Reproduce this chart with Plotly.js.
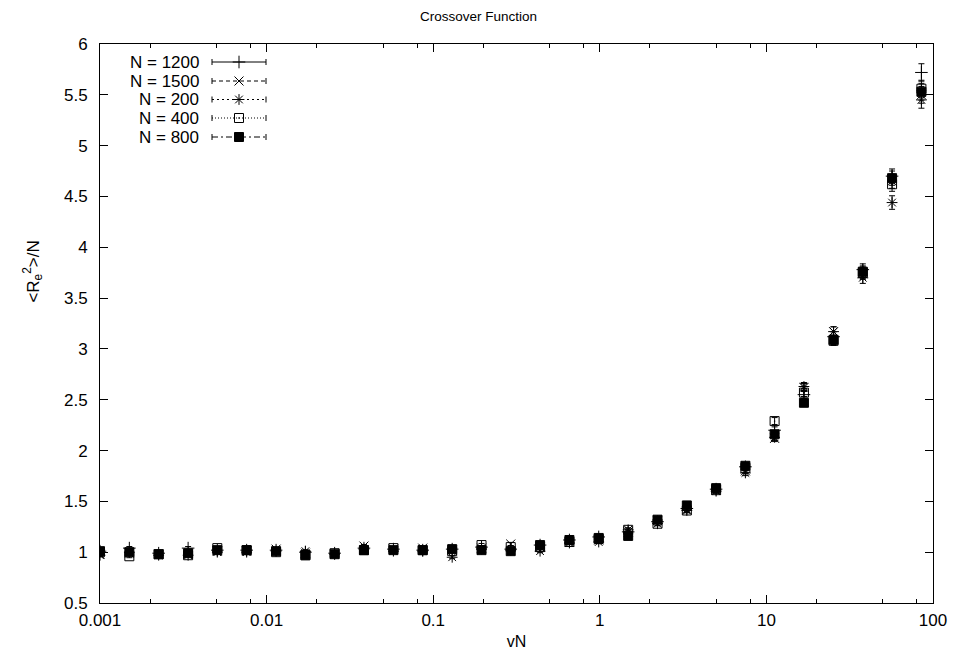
<!DOCTYPE html>
<html>
<head>
<meta charset="utf-8">
<script src="https://cdn.plot.ly/plotly-3.0.1.min.js"></script>
<style>html,body{margin:0;padding:0;background:#fff;}#chart{width:957px;height:666px;}</style>
</head>
<body>
<div id="chart"></div>
<script>
// x positions (vN)
const vN = [0.001, 0.0015, 0.00225, 0.00338, 0.00506, 0.00759, 0.0114, 0.0171, 0.0256, 0.0384,
  0.0577, 0.0865, 0.130, 0.195, 0.292, 0.438, 0.657, 0.985, 1.48, 2.22,
  3.33, 4.99, 7.48, 11.2, 16.8, 25.3, 37.9, 56.8, 85.2];

const seriesNames = ["N = 1200", "N = 1500", "N = 200", "N = 400", "N = 800"];

const r1200 = [1.01, 1.04, 0.99, 1.04, 1.02, 1.02, 1.02, 1.00, 0.99, 1.04,
  1.03, 1.02, 1.03, 1.05, 1.03, 1.07, 1.12, 1.15, 1.20, 1.30,
  1.43, 1.62, 1.84, 2.20, 2.55, 3.12, 3.78, 4.70, 5.72];
const r1500 = [0.98, 0.99, 0.98, 0.98, 1.01, 1.01, 1.03, 0.99, 0.98, 1.06,
  1.03, 1.04, 1.02, 1.04, 1.08, 1.05, 1.10, 1.12, 1.20, 1.31,
  1.42, 1.61, 1.80, 2.12, 2.62, 3.17, 3.74, 4.65, 5.50];
const r200 = [0.97, 1.00, 0.97, 0.97, 1.00, 1.00, 1.01, 1.01, 0.98, 1.03,
  1.01, 1.01, 0.95, 1.03, 1.02, 1.01, 1.09, 1.10, 1.22, 1.28,
  1.41, 1.60, 1.78, 2.13, 2.63, 3.17, 3.70, 4.44, 5.45];
const r400 = [1.00, 0.96, 0.98, 0.97, 1.04, 1.02, 1.00, 0.97, 0.99, 1.02,
  1.04, 1.02, 1.01, 1.07, 1.05, 1.05, 1.10, 1.13, 1.22, 1.28,
  1.41, 1.61, 1.83, 2.29, 2.57, 3.08, 3.75, 4.62, 5.56];
const r800 = [1.01, 1.00, 0.98, 0.99, 1.02, 1.02, 1.01, 0.97, 0.98, 1.02,
  1.02, 1.02, 1.03, 1.02, 1.01, 1.07, 1.12, 1.14, 1.16, 1.32,
  1.46, 1.63, 1.85, 2.16, 2.47, 3.09, 3.76, 4.68, 5.53];

const xTickVals = [0.001, 0.01, 0.1, 1, 10, 100];
const xTickText = ["0.001", "0.01", "0.1", "1", "10", "100"];
const xMinorVals = [0.002, 0.005, 0.008, 0.02, 0.05, 0.08, 0.2, 0.5, 0.8, 2, 5, 8, 20, 50, 80];

const seriesY = [r1200, r1500, r200, r400, r800];
const symbols = ["cross-thin-open", "x-thin-open", "asterisk-open", "square-open-dot", "square"];
const dashes = ["solid", "4px,3px", "2px,3px", "1px,2px", "6px,3px,2px,3px"];
const errPct = 1.5;

const traces = [];
seriesY.forEach((ys, i) => {
  traces.push({
    x: vN, y: ys, type: "scatter", mode: "markers", name: seriesNames[i],
    showlegend: false,
    marker: {symbol: symbols[i], size: 9, color: "#000", line: {color: "#000", width: 1}},
    error_y: {type: "percent", value: errPct, color: "#000", thickness: 1, width: 3}
  });
});

const fam = "Liberation Sans, Arial, sans-serif";
const font = {family: fam, size: 17, color: "#000"};

// Key (gnuplot style, drawn in pixel-space overlay axes)
const keyRowY = [62, 81, 99.5, 118, 137];
const keyTextX = 201, keyL = 212, keyR = 266, keyM = 239;
const shapes = [];
const annotations = [];
keyRowY.forEach((yy, i) => {
  traces.push({
    x: [keyM], y: [yy], xaxis: "x2", yaxis: "y2", type: "scatter", mode: "markers",
    showlegend: false, hoverinfo: "skip",
    marker: {symbol: symbols[i], size: 9, color: "#000", line: {color: "#000", width: 1}}
  });
  shapes.push({type: "line", xref: "x2", yref: "y2", x0: keyL, x1: keyR, y0: yy, y1: yy,
    line: {color: "#000", width: 1, dash: dashes[i]}});
  shapes.push({type: "line", xref: "x2", yref: "y2", x0: keyL, x1: keyL, y0: yy - 3, y1: yy + 3,
    line: {color: "#000", width: 1}});
  shapes.push({type: "line", xref: "x2", yref: "y2", x0: keyR, x1: keyR, y0: yy - 3, y1: yy + 3,
    line: {color: "#000", width: 1}});
  annotations.push({xref: "x2", yref: "y2", x: keyTextX, y: yy, text: seriesNames[i],
    showarrow: false, xanchor: "right", yanchor: "middle",
    font: {family: fam, size: 17, color: "#000"}});
});

// y-axis label (gnuplot places it above the centre)
annotations.push({xref: "paper", yref: "paper", x: -0.081, y: 0.592,
  text: "&lt;R<sub>e</sub><sup>2</sup>&gt;/N", textangle: -90, showarrow: false,
  xanchor: "center", yanchor: "middle", font: font});

const layout = {
  width: 957, height: 666,
  margin: {l: 100, r: 24, t: 44, b: 63},
  paper_bgcolor: "#fff", plot_bgcolor: "#fff",
  font: font,
  showlegend: false,
  title: {text: "Crossover Function", x: 0.5, xref: "container", xanchor: "center",
    y: 0.975, yref: "container", yanchor: "middle", font: {family: fam, size: 13.5, color: "#000"}},
  xaxis: {
    type: "log", range: [-3, 2], tickmode: "array", tickvals: xTickVals, ticktext: xTickText,
    ticks: "inside", ticklen: 8, tickwidth: 1, tickcolor: "#000",
    minor: {tickmode: "array", tickvals: xMinorVals, ticks: "inside", ticklen: 4, tickcolor: "#000", tickwidth: 1},
    showline: true, linecolor: "#000", linewidth: 1, mirror: "allticks",
    showgrid: false, zeroline: false, ticklabelstandoff: 2,
    tickfont: font,
    title: {text: "vN", standoff: 6, font: {family: fam, size: 16, color: "#000"}}
  },
  yaxis: {
    range: [0.5, 6], dtick: 0.5, tick0: 0.5,
    ticks: "inside", ticklen: 8, tickwidth: 1, tickcolor: "#000",
    showline: true, linecolor: "#000", linewidth: 1, mirror: "allticks",
    showgrid: false, zeroline: false, ticklabelstandoff: 8,
    tickfont: font
  },
  xaxis2: {overlaying: "x", range: [100, 933], visible: false, fixedrange: true},
  yaxis2: {overlaying: "y", range: [603, 44], visible: false, fixedrange: true},
  shapes: shapes,
  annotations: annotations
};

Plotly.newPlot("chart", traces, layout, {displayModeBar: false, staticPlot: true});
</script>
</body>
</html>
